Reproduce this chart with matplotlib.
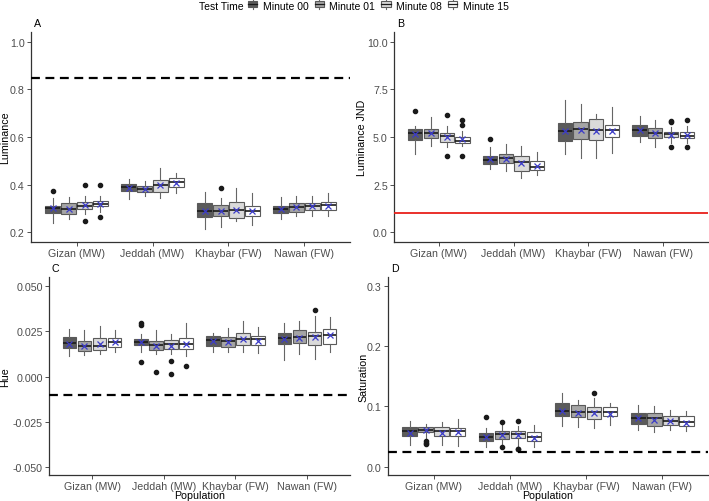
import matplotlib
matplotlib.use("Agg")
import matplotlib.pyplot as plt
from matplotlib.patches import Rectangle
from matplotlib.lines import Line2D

plt.rcParams["font.family"] = ["Liberation Sans", "DejaVu Sans"]

populations = ["Gizan (MW)", "Jeddah (MW)", "Khaybar (FW)", "Nawan (FW)"]
test_times = ["Minute 00", "Minute 01", "Minute 08", "Minute 15"]
fill_colors = ["#5b5b5b", "#a5a5a5", "#dadada", "#ffffff"]

# ---------- Panel A: Luminance (per population, per test time) ----------
lum_q1 = [[0.281, 0.277, 0.298, 0.309], [0.375, 0.368, 0.371, 0.392],
          [0.263, 0.270, 0.259, 0.270], [0.281, 0.287, 0.295, 0.295]]
lum_med = [[0.301, 0.300, 0.312, 0.321], [0.389, 0.382, 0.399, 0.411],
           [0.291, 0.291, 0.295, 0.291], [0.298, 0.305, 0.311, 0.313]]
lum_q3 = [[0.312, 0.323, 0.326, 0.333], [0.403, 0.394, 0.418, 0.427],
          [0.323, 0.315, 0.328, 0.312], [0.312, 0.323, 0.323, 0.326]]
lum_lo = [[0.239, 0.256, 0.277, 0.284], [0.340, 0.352, 0.345, 0.364],
          [0.214, 0.221, 0.249, 0.231], [0.256, 0.267, 0.267, 0.267]]
lum_hi = [[0.343, 0.347, 0.354, 0.351], [0.422, 0.415, 0.469, 0.450],
          [0.371, 0.343, 0.387, 0.364], [0.347, 0.354, 0.354, 0.366]]
lum_mean = [[0.302, 0.300, 0.313, 0.321], [0.387, 0.382, 0.398, 0.409],
            [0.291, 0.290, 0.294, 0.291], [0.298, 0.306, 0.311, 0.312]]
lum_out = [[[0.375], [], [0.397, 0.246], [0.397, 0.263]], [[], [], [], []],
           [[], [0.387], [], []], [[], [], [], []]]
lum_ref = 0.848

# ---------- Panel B: Luminance JND ----------
jnd_q1 = [[4.86, 4.93, 4.76, 4.69], [3.57, 3.64, 3.23, 3.29],
          [4.81, 4.90, 4.84, 5.02], [5.03, 4.93, 4.98, 4.95]]
jnd_med = [[5.19, 5.21, 5.03, 4.81], [3.81, 3.88, 3.71, 3.41],
           [5.30, 5.42, 5.37, 5.38], [5.38, 5.19, 5.16, 5.07]]
jnd_q3 = [[5.42, 5.42, 5.21, 5.02], [3.99, 4.09, 3.99, 3.76],
          [5.73, 5.77, 5.94, 5.63], [5.63, 5.45, 5.28, 5.28]]
jnd_lo = [[4.11, 4.51, 4.46, 4.55], [3.32, 3.23, 2.85, 3.02],
          [4.11, 3.88, 3.90, 4.16], [4.76, 4.49, 4.69, 4.69]]
jnd_hi = [[5.56, 6.03, 5.59, 5.33], [4.46, 4.63, 4.53, 4.23],
          [6.96, 6.73, 6.20, 6.55], [6.12, 5.91, 5.51, 5.56]]
jnd_mean = [[5.17, 5.20, 4.98, 4.88], [3.82, 3.86, 3.65, 3.50],
            [5.33, 5.38, 5.30, 5.33], [5.35, 5.20, 5.13, 5.10]]
jnd_out = [[[6.35], [], [6.15, 3.99], [5.87, 5.63, 3.99]], [[4.88], [], [], []],
           [[], [], [], []], [[], [], [5.86, 5.77, 4.46], [5.89, 4.48]]]
jnd_ref = 1.0

# ---------- Panel C: Hue ----------
hue_q1 = [[0.0156, 0.0143, 0.0149, 0.0162], [0.0175, 0.0147, 0.0153, 0.0153],
          [0.0171, 0.0165, 0.0175, 0.0175], [0.0180, 0.0184, 0.0174, 0.0180]]
hue_med = [[0.0184, 0.0171, 0.0167, 0.0193], [0.0193, 0.0175, 0.0178, 0.0182],
           [0.0202, 0.0197, 0.0208, 0.0208], [0.0213, 0.0217, 0.0226, 0.0230]]
hue_q3 = [[0.0217, 0.0199, 0.0214, 0.0212], [0.0208, 0.0199, 0.0204, 0.0215],
          [0.0226, 0.0217, 0.0241, 0.0226], [0.0241, 0.0258, 0.0248, 0.0263]]
hue_lo = [[0.0116, 0.0120, 0.0125, 0.0138], [0.0134, 0.0125, 0.0125, 0.0116],
          [0.0134, 0.0134, 0.0138, 0.0129], [0.0093, 0.0125, 0.0100, 0.0134]]
hue_hi = [[0.0263, 0.0260, 0.0282, 0.0260], [0.0236, 0.0258, 0.0236, 0.0295],
          [0.0241, 0.0267, 0.0310, 0.0276], [0.0296, 0.0310, 0.0337, 0.0328]]
hue_mean = [[0.0182, 0.0171, 0.0182, 0.0192], [0.0194, 0.0170, 0.0167, 0.0181],
            [0.0197, 0.0194, 0.0206, 0.0199], [0.0210, 0.0214, 0.0220, 0.0228]]
hue_out = [[[], [], [], []], [[0.0297, 0.0286, 0.0082], [0.0023], [0.0088, 0.0014], [0.0056]],
           [[], [], [], []], [[], [], [0.0369], []]]
hue_ref = -0.010

# ---------- Panel D: Saturation ----------
sat_q1 = [[0.0514, 0.0569, 0.0503, 0.0503], [0.0420, 0.0459, 0.0470, 0.0431],
          [0.0845, 0.0818, 0.0790, 0.0845], [0.0707, 0.0680, 0.0690, 0.0668]]
sat_med = [[0.0597, 0.0613, 0.0586, 0.0597], [0.0486, 0.0541, 0.0541, 0.0497],
           [0.0928, 0.0912, 0.0900, 0.0900], [0.0807, 0.0801, 0.0762, 0.0735]]
sat_q3 = [[0.0652, 0.0663, 0.0663, 0.0635], [0.0558, 0.0597, 0.0586, 0.0580],
          [0.1055, 0.1022, 0.0983, 0.0983], [0.0890, 0.0890, 0.0845, 0.0845]]
sat_lo = [[0.0365, 0.0480, 0.0360, 0.0337], [0.0331, 0.0365, 0.0350, 0.0320],
          [0.0680, 0.0652, 0.0640, 0.0690], [0.0613, 0.0580, 0.0613, 0.0597]]
sat_hi = [[0.0762, 0.0700, 0.0735, 0.0790], [0.0640, 0.0690, 0.0680, 0.0690],
          [0.1221, 0.1110, 0.1133, 0.1055], [0.1028, 0.1011, 0.0945, 0.0917]]
sat_mean = [[0.0565, 0.0600, 0.0565, 0.0570], [0.0490, 0.0520, 0.0520, 0.0480],
            [0.0930, 0.0890, 0.0890, 0.0880], [0.0800, 0.0780, 0.0750, 0.0730]]
sat_out = [[[], [0.0431, 0.0392, 0.0380], [], []], [[0.0818], [0.0746, 0.0320], [0.0762, 0.0300, 0.0290], []],
           [[], [], [0.1215], []], [[], [], [], []]]
sat_ref = 0.024

W, H = 709, 502
fig = plt.figure(figsize=(W / 100, H / 100), dpi=100)


def rect(l, r, t, b):
    return [l / W, (H - b) / H, (r - l) / W, (b - t) / H]


dodge = 0.21
box_w = 0.19
tick_color = "#4d4d4d"
FS_TICK = 7.7
FS_TITLE = 7.7
EDGE = "#5a5a5a"


def panel(pos, q1, med, q3, lo, hi, mean, out, ylim, yticks, ylabels, ylabel, ylab_x,
          letter, ref, ref_color, ref_style, xlabel=None):
    ax = fig.add_axes(rect(*pos))
    for i in range(len(populations)):
        for j in range(len(test_times)):
            st = dict(med=med[i][j], q1=q1[i][j], q3=q3[i][j], whislo=lo[i][j],
                      whishi=hi[i][j], mean=mean[i][j], fliers=out[i][j])
            x = (i + 1) + (j - 1.5) * dodge
            ax.bxp([st], positions=[x], widths=box_w, showmeans=True, patch_artist=True,
                   boxprops=dict(facecolor=fill_colors[j], edgecolor=EDGE, linewidth=0.8),
                   whiskerprops=dict(color="#666666", linewidth=0.8),
                   capprops=dict(linewidth=0),
                   medianprops=dict(color="#1a1a1a", linewidth=1.2),
                   meanprops=dict(marker="x", markeredgecolor="#3c3cc8", markersize=4.8,
                                  markeredgewidth=0.9, linestyle="none"),
                   flierprops=dict(marker="o", markerfacecolor="#1a1a1a",
                                   markeredgecolor="#1a1a1a", markersize=3.0))
    if ref_style == "dashed":
        ax.axhline(ref, color=ref_color, linewidth=1.6, linestyle=(0, (4, 2.5)), zorder=5)
    else:
        ax.axhline(ref, color=ref_color, linewidth=1.3, zorder=5)
    ax.set_xlim(0.4, 4.6)
    ax.set_ylim(*ylim)
    ax.set_xticks(range(1, 5))
    ax.set_xticklabels(populations, fontsize=FS_TICK, color=tick_color)
    ax.set_yticks(yticks)
    ax.set_yticklabels(ylabels, fontsize=FS_TICK, color=tick_color)
    ax.tick_params(axis="both", colors="#333333", length=3, width=0.6, labelcolor=tick_color)
    ax.tick_params(axis="y", pad=1.5)
    ax.tick_params(axis="x", pad=1.0)
    for s in ["top", "right"]:
        ax.spines[s].set_visible(False)
    for s in ["left", "bottom"]:
        ax.spines[s].set_color("#333333")
        ax.spines[s].set_linewidth(0.9)
    yc = (pos[2] + pos[3]) / 2
    fig.text(ylab_x / W, 1 - yc / H, ylabel, fontsize=FS_TITLE, rotation=90,
             ha="center", va="center")
    if xlabel:
        xc = (pos[0] + pos[1]) / 2
        fig.text(xc / W, 1 - 496.5 / H, xlabel, fontsize=FS_TITLE, ha="center", va="center")
    fig.text((pos[0] + 3) / W, 1 - (pos[2] - 9) / H, letter, fontsize=FS_TITLE,
             ha="left", va="center")
    return ax


panel((31, 350, 33, 243), lum_q1, lum_med, lum_q3, lum_lo, lum_hi, lum_mean, lum_out,
      (0.16, 1.04), [0.2, 0.4, 0.6, 0.8, 1.0], ["0.2", "0.4", "0.6", "0.8", "1.0"],
      "Luminance", 5, "A", lum_ref, "black", "dashed")
panel((394, 708, 33, 243), jnd_q1, jnd_med, jnd_q3, jnd_lo, jnd_hi, jnd_mean, jnd_out,
      (-0.51, 10.51), [0, 2.5, 5, 7.5, 10], ["0.0", "2.5", "5.0", "7.5", "10.0"],
      "Luminance JND", 362, "B", jnd_ref, "#e8201a", "solid")
panel((49, 350, 278, 476), hue_q1, hue_med, hue_q3, hue_lo, hue_hi, hue_mean, hue_out,
      (-0.0546, 0.0552), [-0.05, -0.025, 0, 0.025, 0.05],
      ["-0.050", "-0.025", "0.000", "0.025", "0.050"],
      "Hue", 5, "C", hue_ref, "black", "dashed", xlabel="Population")
panel((388, 708, 278, 476), sat_q1, sat_med, sat_q3, sat_lo, sat_hi, sat_mean, sat_out,
      (-0.0138, 0.3144), [0, 0.1, 0.2, 0.3], ["0.0", "0.1", "0.2", "0.3"],
      "Saturation", 363, "D", sat_ref, "black", "dashed", xlabel="Population")


# legend with boxplot-shaped keys
class BoxKey:
    def __init__(self, color):
        self.color = color


class BoxKeyHandler:
    def legend_artist(self, legend, orig_handle, fontsize, handlebox):
        x0, y0 = handlebox.xdescent, handlebox.ydescent
        w, h = handlebox.width, handlebox.height
        tr = handlebox.get_transform()
        arts = [
            Line2D([x0 + w / 2, x0 + w / 2], [y0 - 0.1 * h, y0 + 0.2 * h], color="#666666",
                   linewidth=0.8, transform=tr),
            Line2D([x0 + w / 2, x0 + w / 2], [y0 + 0.8 * h, y0 + 1.1 * h], color="#666666",
                   linewidth=0.8, transform=tr),
            Rectangle((x0, y0 + 0.2 * h), w, 0.6 * h, facecolor=orig_handle.color,
                      edgecolor=EDGE, linewidth=0.8, transform=tr),
            Line2D([x0, x0 + w], [y0 + 0.5 * h, y0 + 0.5 * h], color="#1a1a1a",
                   linewidth=0.9, transform=tr),
        ]
        for a in arts:
            handlebox.add_artist(a)
        return arts[2]


fig.text(199 / W, 1 - 7 / H, "Test Time", fontsize=7.5, ha="left", va="center")
keys = [BoxKey(c) for c in fill_colors]
fig.legend(keys, test_times, handler_map={BoxKey: BoxKeyHandler()},
           loc="center left", bbox_to_anchor=(248 / W, 1 - 7 / H), ncol=4, frameon=False,
           fontsize=7.5, handlelength=0.9, handleheight=0.9, handletextpad=0.5,
           columnspacing=0.6, borderpad=0, borderaxespad=0)

fig.savefig("out.png", dpi=100)
